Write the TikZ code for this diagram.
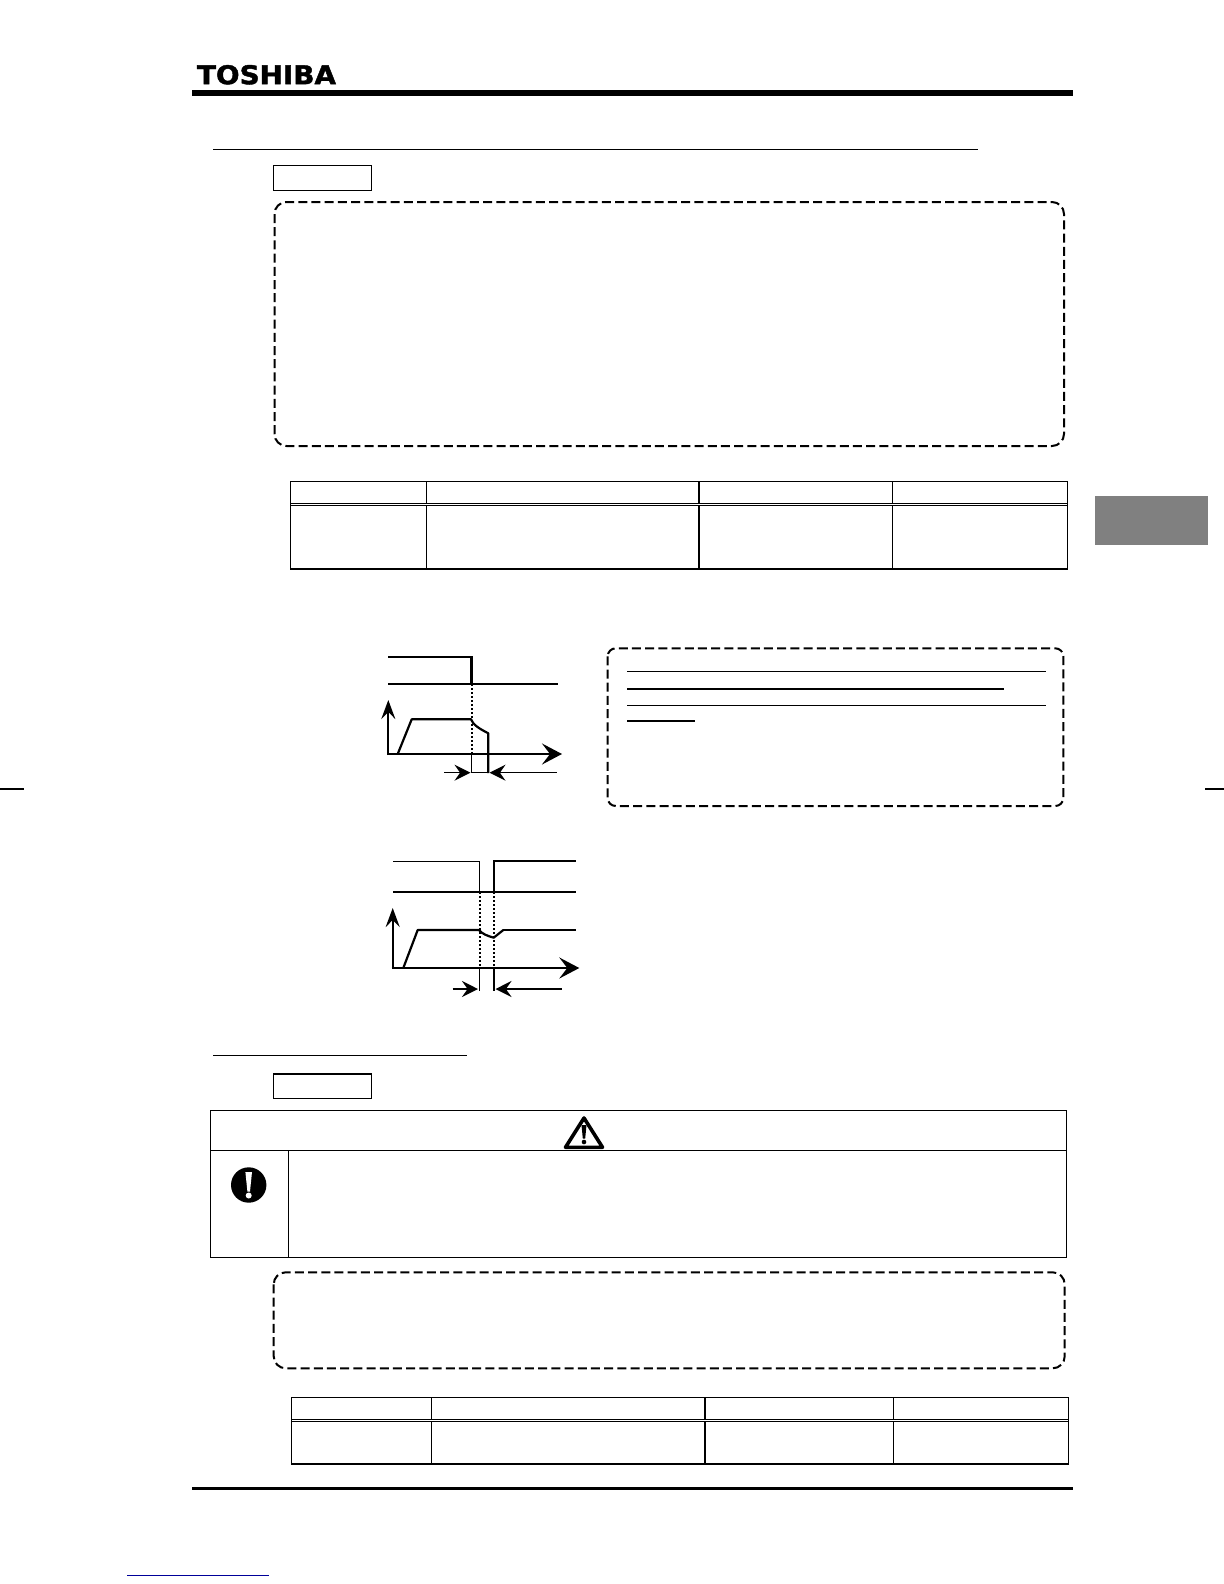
\documentclass[tikz,border=0pt]{standalone}
\usepackage{fontspec}
\setmainfont{Liberation Sans}
\newfontfamily\logofont[UprightFont=* Bold,FakeBold=1.6]{DejaVu Sans}
\usetikzlibrary{arrows.meta}
\definecolor{linkblue}{HTML}{000099}
\tikzset{
  x=0.5pt,y=-0.5pt,
  px/.style={line width=#1*0.5pt},
  thinl/.style={px=1.2,black},
  medl/.style={px=2.2,black},
  tbl/.style={px=1.2,black},
  rulel/.style={px=1,black},
  dashbox/.style={px=2,black,rounded corners=6pt,dash pattern=on 4.5pt off 2.1pt},
  dots/.style={px=2,black,dash pattern=on 1pt off 1pt},
  bigtip/.style={-{Stealth[length=10pt,width=10.5pt,inset=4pt]}},
  midtip/.style={-{Stealth[length=9.5pt,width=7pt,inset=3.5pt]}},
  dimtip/.style={-{Stealth[length=8pt,width=8pt,inset=2.8pt]}}
}
\begin{document}
\begin{tikzpicture}
\useasboundingbox (0,0) rectangle (1224,1584);
% logo
\node[anchor=north west,inner sep=0pt,outer sep=0pt] (logo) at (197,65)
  {\resizebox{69.5pt}{9.6pt}{\logofont TOSHIBA}};
% header and footer
\fill[black] (192,90) rectangle (1072.7,96);
\fill[black] (192,1486.7) rectangle (1072.7,1490);
% side tab and crop marks
\fill[black!50] (1095,496) rectangle (1208,545);
\draw[thinl] (0,789) -- (24,789);
\draw[thinl] (1205,789) -- (1224,789);
% section 1
\draw[thinl] (213,149.5) -- (978,149.5);
\draw[tbl] (273.5,165.5) rectangle (371.5,190.5);
\draw[dashbox] (274.5,202) rectangle (1064,446);
% table 1
\draw[tbl] (290.3,481.5) rectangle (1067.5,569);
\draw[rulel] (290.3,503) -- (1067.5,503);
\draw[rulel] (290.3,505.6) -- (1067.5,505.6);
\foreach \xx in {426.3,699,892.8} {
  \draw[tbl] (\xx,481.5) -- (\xx,503);
  \draw[tbl] (\xx,505.6) -- (\xx,569);
}
% diagram 1
\draw[medl] (388,656.7) -- (471.5,656.7) -- (471.5,684);
\draw[px=1.7] (388,684) -- (558,684);
\draw[dots] (471.5,684) -- (471.5,754);
\draw[px=2.2,midtip] (388.3,755) -- (388.3,700);
\draw[px=2.2,bigtip] (387,754) -- (562,754);
\draw[medl,line join=round] (397.7,754) -- (411.7,719.3) -- (471,719.3) .. controls (473,725) and (480,729) .. (488.3,733.3) -- (488.3,773);
\draw[thinl] (471.7,754) -- (471.7,773);
\draw[px=1.3] (471.7,772.7) -- (488.3,772.7);
\draw[px=1.3,dimtip] (444,772.7) -- (470.5,772.7);
\draw[px=1.3,dimtip] (556.7,772.7) -- (489.5,772.7);
% dashed note box
\draw[dashbox,rounded corners=4pt] (607.7,648.3) rectangle (1063.3,806);
\draw[thinl] (627,671.3) -- (1045.7,671.3);
\draw[medl] (627,688.7) -- (1004,688.7);
\draw[thinl] (627,705.3) -- (1045.7,705.3);
\draw[thinl] (627,721) -- (695,721);
% diagram 2
\draw[thinl] (393.3,861.3) -- (479.5,861.3) -- (479.5,892);
\draw[px=1.8] (493.7,892) -- (493.7,861.3) -- (575.7,861.3);
\draw[medl] (393,892) -- (576,892);
\draw[dots] (479.5,892) -- (479.5,968);
\draw[dots] (493.7,892) -- (493.7,968);
\draw[px=2.2,midtip] (392.7,969) -- (392.7,908);
\draw[px=2.2,bigtip] (391.5,968) -- (579.3,968);
\draw[medl,line join=round] (403.3,968) -- (417.7,930) -- (479,930) .. controls (482,934) and (488,936) .. (493.7,937.7) -- (503.3,930);
\draw[thinl] (503.3,930) -- (575.7,930);
\draw[thinl] (479.5,968) -- (479.5,991);
\draw[medl] (493.7,968) -- (493.7,991);
\draw[medl,dimtip] (452.7,989) -- (478,989);
\draw[medl,dimtip] (561.7,989) -- (495.5,989);
% section 2
\draw[thinl] (213,1055.3) -- (466.6,1055.3);
\draw[tbl] (273.5,1074) rectangle (371.5,1098.3);
% caution table
\draw[tbl] (210.3,1110.3) rectangle (1066.7,1257.3);
\draw[tbl] (210.3,1150.3) -- (1066.7,1150.3);
\draw[tbl] (288.3,1150.3) -- (288.3,1257.3);
% warning triangle
\draw[px=3.6,line join=round] (584,1118) -- (602.5,1147.3) -- (565.5,1147.3) -- cycle;
\fill[black] (581.5,1125) -- (586.5,1125) -- (585.2,1138.5) -- (582.8,1138.5) -- cycle;
\fill[black] (584,1142) circle[radius=2.3];
% mandatory icon
\fill[black] (248.7,1185) circle[radius=17.7];
\fill[white] (245.4,1172) -- (252,1172) -- (250,1191.5) -- (247.4,1191.5) -- cycle;
\fill[white] (248.7,1195.5) circle[radius=3];
% dashed box 3
\draw[dashbox] (273.7,1272.3) rectangle (1064.7,1368.3);
% table 2
\draw[tbl] (291.5,1397.7) rectangle (1068.3,1464);
\draw[rulel] (291.5,1419) -- (1068.3,1419);
\draw[rulel] (291.5,1421.5) -- (1068.3,1421.5);
\foreach \xx in {431.5,705,893.3} {
  \draw[tbl] (\xx,1397.7) -- (\xx,1419);
  \draw[tbl] (\xx,1421.5) -- (\xx,1464);
}
% link underline
\draw[px=1,linkblue] (127,1575.3) -- (268.7,1575.3);
\end{tikzpicture}
\end{document}
